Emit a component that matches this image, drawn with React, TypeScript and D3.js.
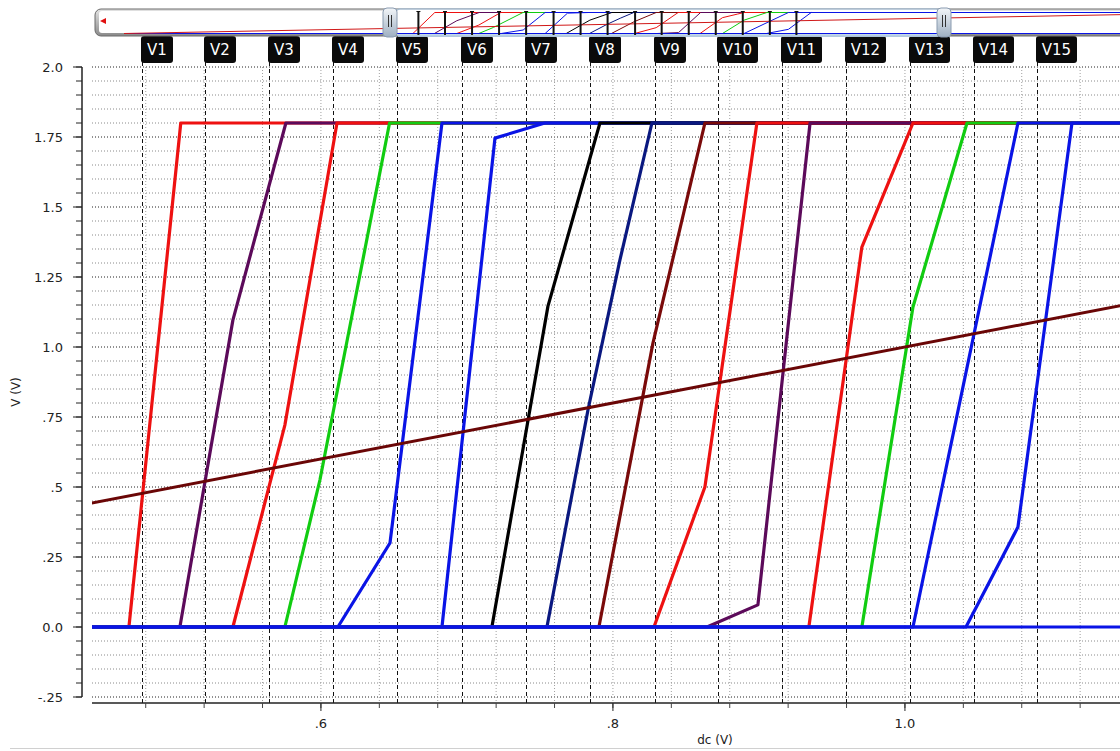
import { useEffect, useRef } from 'react'
import * as d3 from 'd3'

type Pt = [number, number]

// comparator outputs, [dc, V] breakpoints
const out1: Pt[] = [[0, 0], [0.4685, 0], [0.504, 1.8], [1.8, 1.8]]
const out2: Pt[] = [[0, 0], [0.5034, 0], [0.5397, 1.096], [0.576, 1.8], [1.8, 1.8]]
const out3: Pt[] = [[0, 0], [0.5397, 0], [0.5753, 0.721], [0.611, 1.8], [1.8, 1.8]]
const out4: Pt[] = [[0, 0], [0.5753, 0], [0.5993, 0.525], [0.647, 1.8], [1.8, 1.8]]
const out5: Pt[] = [[0, 0], [0.6116, 0], [0.6473, 0.3], [0.6829, 1.8], [1.8, 1.8]]
const out6: Pt[] = [[0, 0], [0.6829, 0], [0.7192, 1.746], [0.7534, 1.8], [1.8, 1.8]]
const out7: Pt[] = [[0, 0], [0.7171, 0], [0.7555, 1.146], [0.7911, 1.8], [1.8, 1.8]]
const out8: Pt[] = [[0, 0], [0.7548, 0], [0.7829, 0.775], [0.8048, 1.311], [0.8267, 1.8], [1.8, 1.8]]
const out9: Pt[] = [[0, 0], [0.7904, 0], [0.8274, 1.014], [0.863, 1.8], [1.8, 1.8]]
const out10: Pt[] = [[0, 0], [0.8281, 0], [0.863, 0.5], [0.8986, 1.8], [1.8, 1.8]]
const out11: Pt[] = [[0, 0], [0.8644, 0], [0.8993, 0.079], [0.935, 1.8], [1.8, 1.8]]
const out12: Pt[] = [[0, 0], [0.9342, 0], [0.9705, 1.357], [0.9945, 1.66], [1.0055, 1.8], [1.8, 1.8]]
const out13: Pt[] = [[0, 0], [0.9705, 0], [1.0055, 1.143], [1.0425, 1.8], [1.8, 1.8]]
const out14: Pt[] = [[0, 0], [1.0055, 0], [1.0774, 1.8], [1.8, 1.8]]
const out15: Pt[] = [[0, 0], [1.0418, 0], [1.0774, 0.357], [1.1144, 1.8], [1.8, 1.8]]
const outLow: Pt[] = [[0, 0], [1.8, 0]]
const rampIn: Pt[] = [[0, 0], [1.8, 1.8]]

const outputs = [out1, out2, out3, out4, out5, out6, out7, out8, out9, out10, out11, out12, out13, out14, out15, outLow]
const outColors = [
  '#ee1111', '#5c0a5a', '#ee1111', '#11cc11', '#0a14e6', '#0a14e6', '#000000', '#0a1880',
  '#7a0a0a', '#ee1111', '#5c0a5a', '#ee1111', '#11cc11', '#0a14e6', '#0a14e6', '#0a14e6',
]
const rampColor = '#6a0606'

// marker positions (dc) where each output crosses the ramp
const markerNames = ['V1', 'V2', 'V3', 'V4', 'V5', 'V6', 'V7', 'V8', 'V9', 'V10', 'V11', 'V12', 'V13', 'V14', 'V15']
const markerX = [0.4774, 0.5205, 0.5644, 0.6082, 0.6521, 0.6966, 0.7404, 0.7842, 0.8288, 0.8719, 0.9158, 0.9596, 1.0034, 1.0473, 1.0904]

const yTickValues = [2.0, 1.75, 1.5, 1.25, 1.0, 0.75, 0.5, 0.25, 0.0, -0.25]
const yTickLabels = ['2.0', '1.75', '1.5', '1.25', '1.0', '.75', '.5', '.25', '0.0', '-.25']
const xTickValues = [0.6, 0.8, 1.0]
const xTickLabels = ['.6', '.8', '1.0']

const FONT = '"DejaVu Sans", Verdana, sans-serif'

export default function App() {
  const svgRef = useRef<SVGSVGElement>(null)

  useEffect(() => {
    if (!svgRef.current) return
    const svg = d3.select(svgRef.current)
    svg.selectAll('*').remove()

    const left = 92
    const right = 1120
    const top = 67
    const bottom = 697
    const axisY = 703

    const x = d3.scaleLinear().domain([0.4432, 1.1473]).range([left, right])
    const y = d3.scaleLinear().domain([-0.25, 2.0]).range([bottom, top])

    const defs = svg.append('defs')
    defs.append('clipPath').attr('id', 'plotClip')
      .append('rect').attr('x', left).attr('y', top - 2).attr('width', right - left).attr('height', axisY - top)
    defs.append('clipPath').attr('id', 'stripClip')
      .append('rect').attr('x', 98).attr('y', 11).attr('width', 1022).attr('height', 24)

    const hg = defs.append('linearGradient').attr('id', 'handleGrad').attr('x1', 0).attr('y1', 0).attr('x2', 0).attr('y2', 1)
    hg.append('stop').attr('offset', '0%').attr('stop-color', '#f2f5f8')
    hg.append('stop').attr('offset', '100%').attr('stop-color', '#9fb0c2')
    const fg = defs.append('linearGradient').attr('id', 'frameGrad').attr('x1', 0).attr('y1', 0).attr('x2', 0).attr('y2', 1)
    fg.append('stop').attr('offset', '0%').attr('stop-color', '#e4e4e4')
    fg.append('stop').attr('offset', '100%').attr('stop-color', '#8a8a8a')

    // horizontal grid every 0.05
    const yGrid = d3.range(-0.25, 2.0001, 0.05)
    svg.append('g')
      .selectAll('line')
      .data(yGrid)
      .enter()
      .append('line')
      .attr('x1', left)
      .attr('x2', right)
      .attr('y1', d => y(d))
      .attr('y2', d => y(d))
      .attr('stroke', d => Math.abs(d / 0.25 - Math.round(d / 0.25)) < 1e-6 ? '#222' : '#8a8a8a')
      .attr('stroke-width', 1)
      .attr('stroke-dasharray', '1,2')

    // vertical grid every 0.04
    const xGrid = d3.range(0.48, 1.1473, 0.04)
    svg.append('g')
      .selectAll('line')
      .data(xGrid)
      .enter()
      .append('line')
      .attr('x1', d => x(d))
      .attr('x2', d => x(d))
      .attr('y1', top)
      .attr('y2', axisY)
      .attr('stroke', '#a0a0a0')
      .attr('stroke-width', 1)
      .attr('stroke-dasharray', '1,2')

    // marker lines
    svg.append('g')
      .selectAll('line')
      .data(markerX)
      .enter()
      .append('line')
      .attr('x1', d => Math.round(x(d)) + 0.5)
      .attr('x2', d => Math.round(x(d)) + 0.5)
      .attr('y1', 62)
      .attr('y2', axisY)
      .attr('stroke', '#111')
      .attr('stroke-width', 1)
      .attr('stroke-dasharray', '4,3')

    // y axis
    const yAxis = svg.append('g')
    yAxis.append('line').attr('x1', 82).attr('x2', 82).attr('y1', top).attr('y2', bottom).attr('stroke', '#222').attr('stroke-width', 1.5)
    yAxis.selectAll('line.minor')
      .data(yGrid)
      .enter()
      .append('line')
      .attr('class', 'minor')
      .attr('x1', 76)
      .attr('x2', 82)
      .attr('y1', d => y(d))
      .attr('y2', d => y(d))
      .attr('stroke', '#222')
    yAxis.selectAll('line.major')
      .data(yTickValues)
      .enter()
      .append('line')
      .attr('class', 'major')
      .attr('x1', 73)
      .attr('x2', 82)
      .attr('y1', d => y(d))
      .attr('y2', d => y(d))
      .attr('stroke', '#222')
    yAxis.selectAll('text')
      .data(yTickValues)
      .enter()
      .append('text')
      .attr('x', 63)
      .attr('y', d => y(d))
      .attr('dy', '0.35em')
      .attr('text-anchor', 'end')
      .attr('font-family', FONT)
      .attr('font-size', 13)
      .attr('fill', '#222')
      .text((d, i) => yTickLabels[i])

    svg.append('text')
      .attr('transform', 'translate(20,392) rotate(-90)')
      .attr('text-anchor', 'middle')
      .attr('font-family', FONT)
      .attr('font-size', 12)
      .attr('fill', '#222')
      .text('V (V)')

    // x axis
    const xAxis = svg.append('g')
    xAxis.append('line').attr('x1', left).attr('x2', right).attr('y1', axisY).attr('y2', axisY).attr('stroke', '#222').attr('stroke-width', 1.5)
    xAxis.selectAll('line.minor')
      .data(xGrid)
      .enter()
      .append('line')
      .attr('class', 'minor')
      .attr('x1', d => x(d))
      .attr('x2', d => x(d))
      .attr('y1', axisY)
      .attr('y2', axisY + 5)
      .attr('stroke', '#444')
    xAxis.selectAll('line.major')
      .data(xTickValues)
      .enter()
      .append('line')
      .attr('class', 'major')
      .attr('x1', d => x(d))
      .attr('x2', d => x(d))
      .attr('y1', axisY)
      .attr('y2', axisY + 8)
      .attr('stroke', '#222')
    xAxis.selectAll('text')
      .data(xTickValues)
      .enter()
      .append('text')
      .attr('x', d => x(d))
      .attr('y', 728)
      .attr('text-anchor', 'middle')
      .attr('font-family', FONT)
      .attr('font-size', 13)
      .attr('fill', '#222')
      .text((d, i) => xTickLabels[i])
    svg.append('text')
      .attr('x', 715)
      .attr('y', 744)
      .attr('text-anchor', 'middle')
      .attr('font-family', FONT)
      .attr('font-size', 12)
      .attr('fill', '#222')
      .text('dc (V)')
    svg.append('line').attr('x1', 10).attr('x2', 1120).attr('y1', 748.5).attr('y2', 748.5).attr('stroke', '#d0d0d0')

    // curves
    const line = d3.line<Pt>().x(d => x(d[0])).y(d => y(d[1]))
    const plot = svg.append('g').attr('clip-path', 'url(#plotClip)')
    outputs.forEach((s, i) => {
      plot.append('path')
        .attr('d', line(s))
        .attr('fill', 'none')
        .attr('stroke', outColors[i])
        .attr('stroke-width', 3.2)
        .attr('stroke-linejoin', 'round')
    })
    plot.append('path')
      .attr('d', line(rampIn))
      .attr('fill', 'none')
      .attr('stroke', rampColor)
      .attr('stroke-width', 3)

    // marker labels
    const mk = svg.append('g')
      .selectAll('g')
      .data(markerX)
      .enter()
      .append('g')
      .attr('transform', d => `translate(${Math.round(x(d))},36)`)
    mk.append('rect')
      .attr('x', -1)
      .attr('y', 0)
      .attr('width', (d, i) => markerNames[i].length > 2 ? 41 : 32)
      .attr('height', 27)
      .attr('rx', 3)
      .attr('fill', '#0a0a0a')
    mk.append('text')
      .attr('x', (d, i) => (markerNames[i].length > 2 ? 41 : 32) / 2 - 1)
      .attr('y', 19)
      .attr('text-anchor', 'middle')
      .attr('font-family', FONT)
      .attr('font-size', 15)
      .attr('fill', '#fff')
      .text((d, i) => markerNames[i])

    // overview strip on top
    const ox = d3.scaleLinear().domain([0, 1.8]).range([124, 1234])
    const oy = d3.scaleLinear().domain([0, 1.8]).range([33.5, 12.5])
    const strip = svg.append('g')
    strip.append('rect').attr('x', 95).attr('y', 9).attr('width', 1050).attr('height', 27).attr('rx', 6)
      .attr('fill', 'url(#frameGrad)').attr('stroke', '#6a6a6a')
    strip.append('rect').attr('x', 99).attr('y', 11).attr('width', 1040).attr('height', 22).attr('rx', 3).attr('fill', '#fff')
    strip.append('rect').attr('x', 396).attr('y', 9).attr('width', 544).attr('height', 27).attr('rx', 4)
      .attr('fill', '#fff').attr('stroke', '#a8bccf').attr('stroke-width', 1.5)
    strip.append('rect').attr('x', 398).attr('y', 33).attr('width', 540).attr('height', 4).attr('fill', '#b4cde4').attr('opacity', 0.8)

    const oLine = d3.line<Pt>().x(d => ox(d[0])).y(d => oy(d[1]))
    const mini = strip.append('g').attr('clip-path', 'url(#stripClip)')
    outputs.forEach((s, i) => {
      mini.append('path').attr('d', oLine(s)).attr('fill', 'none').attr('stroke', outColors[i]).attr('stroke-width', 1)
    })
    mini.append('path').attr('d', oLine(rampIn)).attr('fill', 'none').attr('stroke', '#d01818').attr('stroke-width', 1)
    mini.selectAll('line.mk')
      .data(markerX)
      .enter()
      .append('line')
      .attr('class', 'mk')
      .attr('x1', d => ox(d))
      .attr('x2', d => ox(d))
      .attr('y1', 10)
      .attr('y2', 35)
      .attr('stroke', '#111')
      .attr('stroke-width', 2)
    mini.selectAll('rect.mk')
      .data(markerX)
      .enter()
      .append('rect')
      .attr('class', 'mk')
      .attr('x', d => ox(d) - 2)
      .attr('y', 9)
      .attr('width', 4)
      .attr('height', 3)
      .attr('fill', '#111')

    // red left arrow
    strip.append('path').attr('d', 'M100,21 L106,18 L106,24 Z').attr('fill', '#e01010')

    // splitter handles
    ;[383, 937].forEach(hx => {
      strip.append('rect').attr('x', hx).attr('y', 8).attr('width', 14).attr('height', 29).attr('rx', 4)
        .attr('fill', 'url(#handleGrad)').attr('stroke', '#8a9bb0')
      strip.append('line').attr('x1', hx + 5.5).attr('x2', hx + 5.5).attr('y1', 15).attr('y2', 27).attr('stroke', '#333')
      strip.append('line').attr('x1', hx + 8.5).attr('x2', hx + 8.5).attr('y1', 15).attr('y2', 27).attr('stroke', '#333')
    })
  }, [])

  return (
    <svg
      ref={svgRef}
      width={1120}
      height={751}
      style={{ position: 'absolute', left: 0, top: 0, background: '#fff' }}
    />
  )
}
